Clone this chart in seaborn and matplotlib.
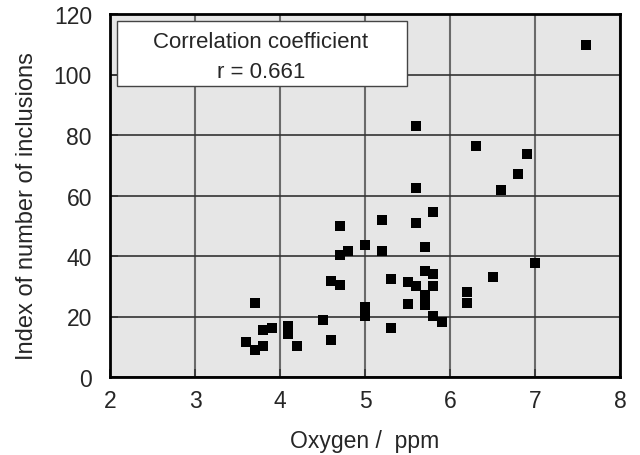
import matplotlib
matplotlib.use("Agg")
import matplotlib.pyplot as plt
import seaborn as sns
import pandas as pd

oxygen = [3.6, 3.7, 3.7, 3.8, 3.8, 3.9, 4.1, 4.1, 4.2, 4.5, 4.6, 4.6, 4.7, 4.7,
          4.7, 4.8, 5.0, 5.0, 5.0, 5.2, 5.2, 5.3, 5.3, 5.5, 5.5, 5.6, 5.6, 5.6,
          5.6, 5.7, 5.7, 5.7, 5.7, 5.8, 5.8, 5.8, 5.8, 5.9, 6.2, 6.2, 6.3, 6.5,
          6.6, 6.8, 6.9, 7.0, 7.6]
inclusions = [11.5, 9.0, 24.6, 10.1, 15.4, 16.1, 17.0, 14.1, 10.1, 18.7, 12.1, 31.8, 30.5, 40.3,
              50.0, 41.8, 43.5, 23.0, 20.3, 52.0, 41.7, 32.4, 16.1, 31.3, 24.1, 82.9, 62.6, 50.8,
              30.1, 43.0, 35.1, 27.2, 23.8, 54.7, 34.0, 30.0, 20.3, 18.1, 28.1, 24.4, 76.3, 33.1,
              61.9, 67.1, 73.6, 37.7, 109.8]
x_ticks = [2, 3, 4, 5, 6, 7, 8]
y_ticks = [0, 20, 40, 60, 80, 100, 120]
box_lines = ["Correlation coefficient", "r = 0.661"]

df = pd.DataFrame({"Oxygen": oxygen, "Inclusions": inclusions})

sns.set_style("white")
plt.rcParams["font.family"] = ["Liberation Sans", "DejaVu Sans"]

fig = plt.figure(figsize=(6.4, 4.56), dpi=100)
ax = fig.add_axes([110 / 640, 1 - 378 / 456, 510 / 640, 363 / 456])
ax.set_facecolor("#e6e6e6")

sns.scatterplot(data=df, x="Oxygen", y="Inclusions", marker="s", color="black",
                s=52, linewidth=0, ax=ax, zorder=3)

ax.set_xlim(2, 8)
ax.set_ylim(0, 120)
ax.set_xticks(x_ticks)
ax.set_yticks(y_ticks)
ax.set_xticklabels([str(t) for t in x_ticks])
ax.set_yticklabels([str(t) for t in y_ticks])
ax.xaxis.grid(True, color="#6a6a6a", linewidth=1.5, zorder=1)
ax.yaxis.grid(True, color="#333333", linewidth=1.2, zorder=1)
ax.set_axisbelow(True)
ax.tick_params(axis="both", direction="in", length=6, width=1.2, color="#333333",
               labelsize=16.5, bottom=True, left=True)
ax.tick_params(axis="x", pad=9)
ax.tick_params(axis="y", pad=13)
for sp in ax.spines.values():
    sp.set_color("black")
    sp.set_linewidth(2)

ax.set_xlabel("Oxygen /  ppm", fontsize=16.5, labelpad=12)
ax.set_ylabel("Index of number of inclusions", fontsize=17)
ax.yaxis.set_label_coords((38 - 110) / 510, (378 - 206) / 363)

# legend-like box
bx0, by0, bx1, by1 = 117, 22, 407, 87
box = plt.Rectangle((bx0 / 640, 1 - by1 / 456), (bx1 - bx0) / 640, (by1 - by0) / 456,
                    transform=fig.transFigure, facecolor="white", edgecolor="#444444",
                    linewidth=1.0, zorder=5)
fig.patches.append(box)
cx = 261 / 640
fig.text(cx, 1 - 43 / 456, box_lines[0], ha="center", va="center", fontsize=16, zorder=6)
fig.text(cx, 1 - 72 / 456, box_lines[1], ha="center", va="center", fontsize=16, zorder=6)

fig.savefig("out.png", dpi=100)
